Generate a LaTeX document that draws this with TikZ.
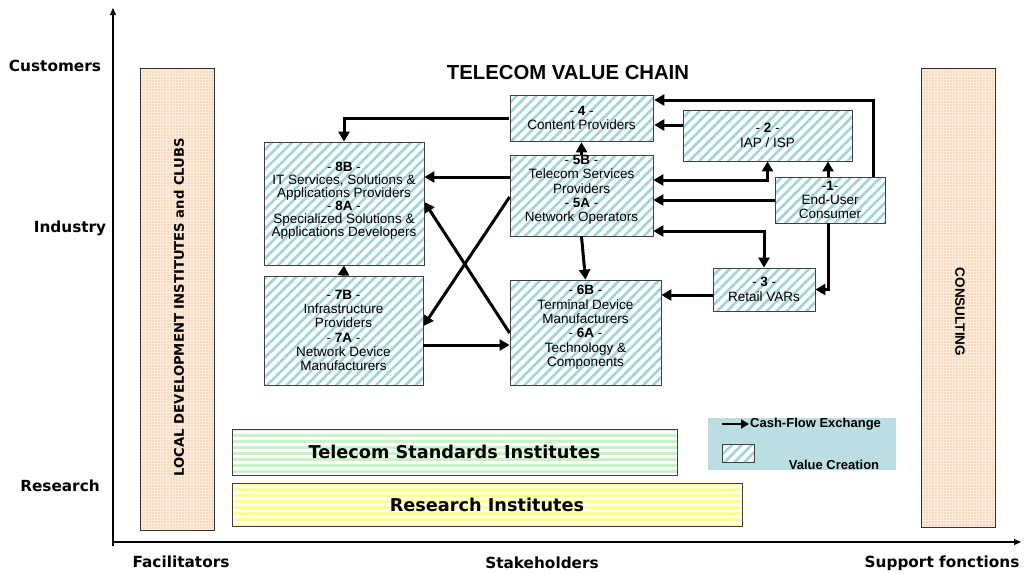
\documentclass[tikz,border=0pt]{standalone}
\usepackage{fontspec}
\setmainfont{Liberation Sans}
\newfontfamily\vfont{DejaVu Sans}
\usetikzlibrary{arrows.meta,patterns.meta}
\definecolor{hatch}{RGB}{160,212,220}
\definecolor{peach}{RGB}{253,236,222}
\definecolor{peachdot}{RGB}{248,200,160}
\definecolor{stdgreen}{RGB}{200,245,200}
\definecolor{resyellow}{RGB}{255,255,150}
\definecolor{legendbg}{RGB}{186,222,226}

\begin{document}
\begin{tikzpicture}[x=1pt,y=-1pt,
  chain/.style={draw=black!75, line width=0.8pt, inner sep=0pt, align=center,
    preaction={fill=white}, pattern={Lines[angle=45,distance=7pt,line width=2.6pt]},
    pattern color=hatch, font=\fontsize{13.5}{14.2}\selectfont},
  column/.style={draw=black!80, line width=0.8pt, inner sep=0pt, minimum width=74pt,
    preaction={fill=peach}, pattern={Dots[distance=3pt,radius=0.8pt]}, pattern color=peachdot},
  band/.style={draw=black!75, line width=0.8pt, inner sep=0pt, preaction={fill=white},
    pattern={Lines[angle=0,distance=6pt,line width=3pt]}, font=\vfont\bfseries\fontsize{17.7}{19}\selectfont},
  flow/.style={line width=3pt, -{Triangle[length=10pt,width=11pt]}},
  flowboth/.style={line width=3pt, {Triangle[length=10pt,width=11pt]}-{Triangle[length=10pt,width=11pt]}},
  axis/.style={line width=1.1pt, -{Triangle[length=7pt,width=6pt]}},
  rowlabel/.style={font=\vfont\bfseries\fontsize{15.3}{17}\selectfont},
  legendtext/.style={font=\bfseries\fontsize{13}{14}\selectfont}
]
\useasboundingbox (0,0) rectangle (1024,573);

 % axes
 \coordinate (origin) at (113,542);
 \coordinate (ytop) at (113,8);
 \coordinate (xend) at (1021,542);
 \draw[axis] (113,546) -- (ytop);
 \draw[axis] (origin) -- (xend);

 \node[rowlabel] (customers) at (55,66) {Customers};
 \node[rowlabel] (industry) at (70,228) {Industry};
 \node[rowlabel] (research) at (60,486) {Research};
 \node[rowlabel] (facilitators) at (181,562) {Facilitators};
 \node[rowlabel] (stakeholders) at (542,563) {Stakeholders};
 \node[rowlabel] (support) at (942,563) {Support fonctions};

 % side columns
 \node[column, minimum height=462pt] (local) at (177,299) {};
 \node[rotate=90, font=\vfont\bfseries\fontsize{13.2}{14}\selectfont] at (179,307) {LOCAL DEVELOPMENT INSTITUTES and CLUBS};
 \node[column, minimum height=459pt] (consult) at (958,297.5) {};
 \node[rotate=-90, font=\bfseries\fontsize{13.5}{14}\selectfont] at (960,312) {CONSULTING};

 \node[font=\bfseries\fontsize{20.3}{22}\selectfont] (title) at (568,73) {TELECOM VALUE CHAIN};

 % value chain
 \node[chain, minimum width=143pt, minimum height=46pt] (cp) at (581.5,118) {- \textbf{4} -\\Content Providers};
 \node[chain, minimum width=169pt, minimum height=51pt, font=\fontsize{13.5}{15}\selectfont] (isp) at (767.5,135.5) {- \textbf{2} -\\IAP / ISP};
 \node[chain, minimum width=143pt, minimum height=81pt] (tsp) at (581.5,195.5) {- \textbf{5B} -\\Telecom Services\\Providers\\- \textbf{5A} -\\Network Operators\\};
 \node[chain, minimum width=110pt, minimum height=46pt] (user) at (830,200) {-\textbf{1}-\\End-User\\Consumer};
 \node[chain, minimum width=160pt, minimum height=123pt, font=\fontsize{13.5}{12.9}\selectfont] (itsrv) at (344,203.5) {- \textbf{8B} -\\IT Services, Solutions \&\\Applications Providers\\- \textbf{8A} -\\Specialized Solutions \&\\Applications Developers\\[-4pt]};
 \node[chain, minimum width=159pt, minimum height=109pt] (infra) at (343.5,330.5) {- \textbf{7B} -\\Infrastructure\\Providers\\- \textbf{7A} -\\Network Device\\Manufacturers};
 \node[chain, minimum width=151pt, minimum height=105pt, font=\fontsize{13.5}{14.4}\selectfont] (term) at (585.5,332.5) {- \textbf{6B} -\\Terminal Device\\Manufacturers\\- \textbf{6A} -\\Technology \&\\Components\\[-1.5pt]};
 \node[chain, minimum width=102pt, minimum height=43pt, font=\fontsize{13.5}{15}\selectfont] (retail) at (764,289.5) {- \textbf{3} -\\Retail VARs};

 % cash flows
 \draw[flow] (user.north -| 873,0) |- (cp.east |- 0,100);
 \draw[flow] (isp.west |- 0,125) -- (cp.east |- 0,125);
 \draw[flow] (tsp.north) -- (cp.south);
 \draw[flow] (cp.west) -| (itsrv.north);
 \draw[flow] (tsp.west |- 0,177) -- (itsrv.east |- 0,177);
 \draw[flowboth] (tsp.east |- 0,180) -| (isp.south);
 \draw[flow] (user.north -| 828,0) -- (isp.south -| 828,0);
 \draw[flow] (user.west) -- (tsp.east |- user.west);
 \draw[flowboth] (tsp.east |- 0,231) -| (retail.north);
 \draw[flow] (user.south -| 828,0) |- (retail.east);
 \draw[flow] (retail.west |- 0,295) -- (term.east |- 0,295);
 \draw[flow] (tsp.south) -- (term.north);
 \draw[flow] (infra.north) -- (itsrv.south);
 \draw[flow] (infra.east |- 0,345) -- (term.west |- 0,345);
 \draw[flow] (tsp.west |- 0,197) -- (infra.east |- 0,326);
 \draw[flow] (term.west |- 0,333) -- (itsrv.east |- 0,202);

 % institutes
 \node[band, pattern color=stdgreen, minimum width=445pt, minimum height=46pt] (std) at (454.5,452) {Telecom Standards Institutes};
 \node[band, pattern color=resyellow, minimum width=510pt, minimum height=43pt] (res) at (487,504.5) {Research Institutes};

 % legend
 \node[fill=legendbg, minimum width=188pt, minimum height=52pt, inner sep=0pt] (legend) at (802,444) {};
 \coordinate (lgstart) at (722,424);
 \coordinate (lgend) at (749,424);
 \draw[line width=2.5pt, -{Triangle[length=8pt,width=9pt]}] (lgstart) -- (lgend);
 \node[legendtext, anchor=west, inner sep=1pt] (lgcash) at (lgend) {Cash-Flow Exchange};
 \node[chain, minimum width=32pt, minimum height=18pt] (lgbox) at (738,453) {};
 \node[legendtext] (lgvalue) at (834,465) {Value Creation};
\end{tikzpicture}
\end{document}
